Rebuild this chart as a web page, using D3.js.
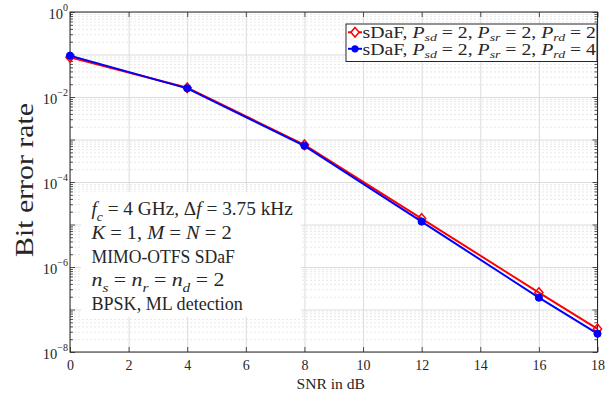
<!DOCTYPE html>
<html><head><meta charset="utf-8">
<script src="https://cdn.jsdelivr.net/npm/d3@7"></script>
<style>
body{margin:0;background:#fff}
text{font-family:"Liberation Serif","Times New Roman",serif;fill:#262626;white-space:pre}
</style>
</head><body>
<svg id="c" width="616" height="399"></svg>
<script>
// ---- data ----
const snr = [0, 4, 8, 12, 16, 18];
const berPrd2 = [0.086, 0.0165, 7.5e-4, 1.38e-5, 2.5e-7, 3.5e-8];
const berPrd4 = [0.094, 0.0160, 7.1e-4, 1.17e-5, 1.9e-7, 2.7e-8];
const xTicks = [0, 2, 4, 6, 8, 10, 12, 14, 16, 18];
const yTickExps = [0, -2, -4, -6, -8];
const xLabel = "SNR in dB";
const yLabel = "Bit error rate";
const legendLabels = [
  [["sDaF, ","n"],["P","i"],["sd","s"],[" = 2, ","n"],["P","i"],["sr","s"],[" = 2, ","n"],["P","i"],["rd","s"],[" = 2","n"]],
  [["sDaF, ","n"],["P","i"],["sd","s"],[" = 2, ","n"],["P","i"],["sr","s"],[" = 2, ","n"],["P","i"],["rd","s"],[" = 4","n"]]
];
const annoLines = [
  [["f","i"],["c","s"],[" = 4 GHz, Δ","n"],["f","i"],[" = 3.75 kHz","n"]],
  [["K","i"],[" = 1, ","n"],["M","i"],[" = ","n"],["N","i"],[" = 2","n"]],
  [["MIMO-OTFS SDaF","n"]],
  [["n","i"],["s","s"],[" = ","n"],["n","i"],["r","s"],[" = ","n"],["n","i"],["d","s"],[" = 2","n"]],
  [["BPSK, ML detection","n"]]
];

// ---- layout ----
const svg = d3.select("#c");
svg.append("rect").attr("width",616).attr("height",399).attr("fill","#fff");
const L = 70, R = 597.5, T = 12, B = 352;
const x = d3.scaleLinear().domain([0,18]).range([L,R]);
const y = d3.scaleLog().domain([1e-8,1]).range([B,T]);

const decades = yTickExps.map(e => Math.pow(10,e));
const allDecades = d3.range(-8,1).map(e => Math.pow(10,e));
const minor = [];
d3.range(-8,0).forEach(e => { for (let m=2;m<=9;m++) minor.push(m*Math.pow(10,e)); });

// grid
const gMinor = svg.append("g").attr("transform",`translate(${L},0)`)
  .call(d3.axisLeft(y).tickValues(minor).tickSize(-(R-L)).tickFormat(""));
gMinor.select(".domain").remove();
gMinor.selectAll("line").attr("stroke","#e2e2e2").attr("stroke-dasharray","2,2").attr("stroke-width",0.8);

const gMajY = svg.append("g").attr("transform",`translate(${L},0)`)
  .call(d3.axisLeft(y).tickValues(allDecades).tickSize(-(R-L)).tickFormat(""));
gMajY.select(".domain").remove();
gMajY.selectAll("line").attr("stroke","#dcdcdc").attr("stroke-width",1);

const gMajX = svg.append("g").attr("transform",`translate(0,${B})`)
  .call(d3.axisBottom(x).tickValues(xTicks).tickSize(-(B-T)).tickFormat(""));
gMajX.select(".domain").remove();
gMajX.selectAll("line").attr("stroke","#dcdcdc").attr("stroke-width",1);

// annotation background box
svg.append("rect").attr("x",81).attr("y",192).attr("width",220).attr("height",125).attr("fill","#fff");

// ticks
function tickAxis(axis, tr, size, vals){
  const g = svg.append("g").attr("transform",tr).call(axis.tickValues(vals).tickSize(size).tickFormat(""));
  g.select(".domain").remove();
  g.selectAll("line").attr("stroke","#262626").attr("stroke-width",0.8);
  return g;
}
tickAxis(d3.axisLeft(y), `translate(${L},0)`, -3, minor);
tickAxis(d3.axisRight(y), `translate(${R},0)`, -3, minor);
tickAxis(d3.axisLeft(y), `translate(${L},0)`, -5, allDecades);
tickAxis(d3.axisRight(y), `translate(${R},0)`, -5, allDecades);
tickAxis(d3.axisBottom(x), `translate(0,${B})`, -5, xTicks);
tickAxis(d3.axisTop(x), `translate(0,${T})`, -5, xTicks);

// x tick labels
const gx = svg.append("g").attr("transform",`translate(0,${B})`)
  .call(d3.axisBottom(x).tickValues(xTicks).tickSize(0).tickFormat(d3.format("d")));
gx.select(".domain").remove();
gx.selectAll("text").attr("y",18).attr("dy",0).attr("font-size",14)
  .style("font-family","'Liberation Serif',serif").attr("fill","#262626");

// y tick labels
const gy = svg.append("g").attr("transform",`translate(${L},0)`)
  .call(d3.axisLeft(y).tickValues(decades).tickSize(0).tickFormat(""));
gy.select(".domain").remove();
gy.selectAll("text").attr("x",-2).attr("dy",0).attr("y",6).attr("text-anchor","end")
  .style("font-family","'Liberation Serif',serif").attr("fill","#262626")
  .each(function(d){
    const t = d3.select(this);
    const e = Math.round(Math.log10(d));
    t.append("tspan").attr("font-size",14.5).text("10");
    t.append("tspan").attr("font-size",10).attr("dy",-7.5).text(e===0?"0":"−"+Math.abs(e));
  });

// frame
svg.append("rect").attr("x",L).attr("y",T).attr("width",R-L).attr("height",B-T)
  .attr("fill","none").attr("stroke","#262626").attr("stroke-width",1);

// series
const line = d3.line().x(d=>x(d[0])).y(d=>y(d[1]));
const s2 = snr.map((v,i)=>[v,berPrd2[i]]);
const s4 = snr.map((v,i)=>[v,berPrd4[i]]);
const diamond = (cx,cy,r)=>`M${cx},${cy-r}L${cx+r*0.85},${cy}L${cx},${cy+r}L${cx-r*0.85},${cy}Z`;

function drawRed(g, pts){
  g.append("path").datum(pts).attr("d",line).attr("fill","none").attr("stroke","#ff0000").attr("stroke-width",2);
  g.selectAll(".dm").data(pts).join("path").attr("d",d=>diamond(x(d[0]),y(d[1]),4.8))
    .attr("fill","none").attr("stroke","#ff0000").attr("stroke-width",1.5);
}
function drawBlue(g, pts){
  g.append("path").datum(pts).attr("d",line).attr("fill","none").attr("stroke","#0000ff").attr("stroke-width",2);
  g.selectAll(".ci").data(pts).join("circle").attr("cx",d=>x(d[0])).attr("cy",d=>y(d[1])).attr("r",3.6)
    .attr("fill","#0000ff").attr("stroke","#0000ff").attr("stroke-width",1);
}
drawRed(svg.append("g"), s2);
drawBlue(svg.append("g"), s4);

// rich text helper
function rich(parent, segs, xx, yy, fs, subShift){
  const t = parent.append("text").attr("x",xx).attr("y",yy).attr("font-size",fs).attr("fill","#000");
  let sub = false;
  segs.forEach(([s,st])=>{
    const sp = t.append("tspan").text(s);
    if (st==="s"){
      sp.attr("font-size",fs*0.7).attr("font-style","italic");
      if(!sub){ sp.attr("dy",fs*subShift); sub=true; }
    } else {
      if (sub){ sp.attr("dy",-fs*subShift); sub=false; }
      if (st==="i") sp.attr("font-style","italic");
    }
  });
  return t;
}
function fit(t, x0, w){
  const bw = t.node().getBBox().width;
  const k = w/bw;
  t.attr("transform",`translate(${x0},0) scale(${k},1) translate(${-x0},0)`);
}

// annotation
const annoBase = [215.5, 239, 263, 286.5, 310];
const annoW = [201.5, 141.5, 143.5, 133, 151.5];
annoLines.forEach((segs,i)=>{
  const t = rich(svg, segs, 91.5, annoBase[i], 18, 0.28);
  fit(t, 91.5, annoW[i]);
});

// legend
const lg = svg.append("g");
lg.append("rect").attr("x",346).attr("y",24).attr("width",251).attr("height",37.5)
  .attr("fill","#fff").attr("stroke","#262626").attr("stroke-width",1);
const legY = [32.3, 48.8];
// red entry
lg.append("line").attr("x1",348).attr("x2",362).attr("y1",legY[0]).attr("y2",legY[0]).attr("stroke","#ff0000").attr("stroke-width",2);
lg.append("path").attr("d",diamond(355,legY[0],4.8)).attr("fill","#fff").attr("stroke","#ff0000").attr("stroke-width",1.5);
// blue entry
lg.append("line").attr("x1",348).attr("x2",362).attr("y1",legY[1]).attr("y2",legY[1]).attr("stroke","#0000ff").attr("stroke-width",2);
lg.append("circle").attr("cx",355).attr("cy",legY[1]).attr("r",3.6).attr("fill","#0000ff");
legendLabels.forEach((segs,i)=>{
  const t = rich(lg, segs, 362.5, legY[i]+6, 16, 0.18);
  fit(t, 362.5, 233.5);
});

// axis labels
const xl = svg.append("text").attr("x",296.5).attr("y",389).attr("font-size",15).attr("fill","#000").text(xLabel);
fit(xl, 296.5, 68.5);
svg.append("text").attr("transform","translate(33,180) rotate(-90)").attr("text-anchor","middle")
  .attr("font-size",25).attr("fill","#000").attr("textLength",154).attr("lengthAdjust","spacingAndGlyphs").text(yLabel);
</script>
</body></html>
